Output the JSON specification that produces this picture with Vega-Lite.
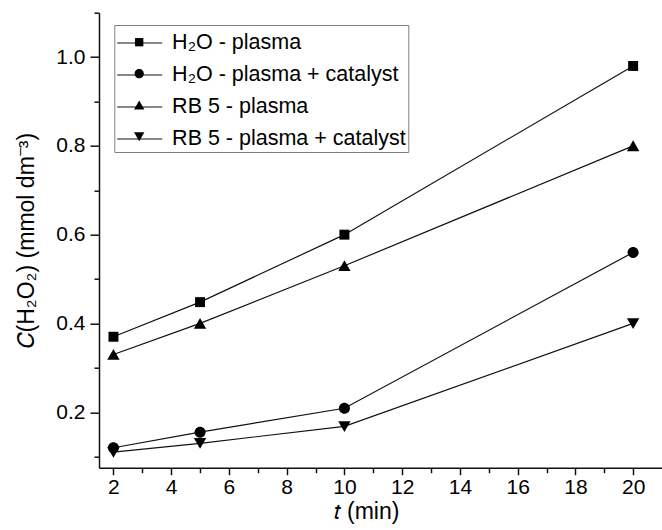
{
  "$schema": "https://vega.github.io/schema/vega-lite/v6.json",
  "width": 563,
  "height": 455,
  "autosize": {"type": "none"},
  "padding": {"left": 99, "top": 12.7, "right": 0, "bottom": 62.3},
  "background": "white",
  "config": {
    "view": {"stroke": null},
    "font": "Liberation Sans",
    "axis": {
      "grid": false,
      "domainColor": "#111",
      "domainWidth": 1.5,
      "tickColor": "#111",
      "tickWidth": 1.5,
      "labelColor": "#000",
      "labelFont": "Liberation Sans",
      "labelFontSize": 21,
      "titleFont": "Liberation Sans",
      "titleFontSize": 23,
      "titleFontWeight": "normal",
      "titleColor": "#000",
      "labelOverlap": false,
      "labelFlush": false
    }
  },
  "data": {
    "values": [
      {"series": "H₂O - plasma", "t": 2, "c": 0.37},
      {"series": "H₂O - plasma", "t": 5, "c": 0.448},
      {"series": "H₂O - plasma", "t": 10, "c": 0.60},
      {"series": "H₂O - plasma", "t": 20, "c": 0.98},
      {"series": "H₂O - plasma + catalyst", "t": 2, "c": 0.12},
      {"series": "H₂O - plasma + catalyst", "t": 5, "c": 0.155},
      {"series": "H₂O - plasma + catalyst", "t": 10, "c": 0.209},
      {"series": "H₂O - plasma + catalyst", "t": 20, "c": 0.56},
      {"series": "RB 5 - plasma", "t": 2, "c": 0.33},
      {"series": "RB 5 - plasma", "t": 5, "c": 0.40},
      {"series": "RB 5 - plasma", "t": 10, "c": 0.53},
      {"series": "RB 5 - plasma", "t": 20, "c": 0.80},
      {"series": "RB 5 - plasma + catalyst", "t": 2, "c": 0.11},
      {"series": "RB 5 - plasma + catalyst", "t": 5, "c": 0.13},
      {"series": "RB 5 - plasma + catalyst", "t": 10, "c": 0.168},
      {"series": "RB 5 - plasma + catalyst", "t": 20, "c": 0.40}
    ]
  },
  "encoding": {
    "x": {
      "field": "t",
      "type": "quantitative",
      "scale": {"domain": [1.5, 21], "nice": false, "zero": false},
      "axis": {
        "title": "𝑡 (min)",
        "titleX": 267,
        "titlePadding": 3,
        "values": [2, 3, 4, 5, 6, 7, 8, 9, 10, 11, 12, 13, 14, 15, 16, 17, 18, 19, 20],
        "labelExpr": "datum.value % 2 === 0 ? '' + datum.value : ''",
        "tickSize": {"condition": {"test": "datum.value % 2 === 0", "value": 7}, "value": 5},
        "labelPadding": 2
      }
    },
    "y": {
      "field": "c",
      "type": "quantitative",
      "scale": {"domain": [0.075, 1.1], "nice": false, "zero": false},
      "axis": {
        "title": "𝐶(H₂O₂) (mmol dm⁻³)",
        "titlePadding": 17,
        "values": [0.1, 0.2, 0.3, 0.4, 0.5, 0.6, 0.7, 0.8, 0.9, 1.0, 1.1],
        "labelExpr": "round(datum.value * 10) % 2 === 0 ? format(datum.value, '.1f') : ''",
        "tickSize": {"condition": {"test": "round(datum.value * 10) % 2 === 0", "value": 9}, "value": 5},
        "labelPadding": 5
      }
    }
  },
  "layer": [
    {
      "mark": {"type": "line", "strokeWidth": 1.2},
      "encoding": {
        "color": {
          "field": "series",
          "type": "nominal",
          "scale": {"range": ["#111", "#111", "#111", "#111"]},
          "legend": {
            "orient": "none",
            "legendX": 15.3,
            "legendY": 12.3,
            "title": null,
            "strokeColor": "#808080",
            "padding": 2,
            "rowPadding": 5,
            "symbolType": "M-1.5,0H1.5",
            "symbolSize": 900,
            "symbolStrokeWidth": 1.2,
            "symbolOffset": 7.4,
            "labelOffset": 16.4,
            "labelFont": "Liberation Sans",
            "labelFontSize": 21.5,
            "labelColor": "#000",
            "labelLimit": 400
          }
        }
      }
    },
    {
      "mark": {"type": "point", "filled": true, "color": "#000", "opacity": 1, "size": 144},
      "encoding": {
        "shape": {
          "field": "series",
          "type": "nominal",
          "scale": {
            "domain": ["H₂O - plasma", "H₂O - plasma + catalyst", "RB 5 - plasma", "RB 5 - plasma + catalyst"],
            "range": [
              "M-0.83,-0.83H0.83V0.83H-0.83Z",
              "M0.92,0A0.92,0.92,0,1,1,-0.92,0A0.92,0.92,0,1,1,0.92,0Z",
              "M0,-0.92L1.03,0.88L-1.03,0.88Z",
              "M0,0.92L1.03,-0.88L-1.03,-0.88Z"
            ]
          },
          "legend": {
            "orient": "none",
            "legendX": 15.3,
            "legendY": 18.0,
            "title": null,
            "padding": 1,
            "rowPadding": 9.5,
            "symbolSize": 100,
            "symbolOffset": 13.4,
            "labelOffset": 25.4,
            "labelFont": "Liberation Sans",
            "labelFontSize": 21,
            "labelExpr": "''",
            "labelLimit": 400
          }
        }
      }
    }
  ]
}
